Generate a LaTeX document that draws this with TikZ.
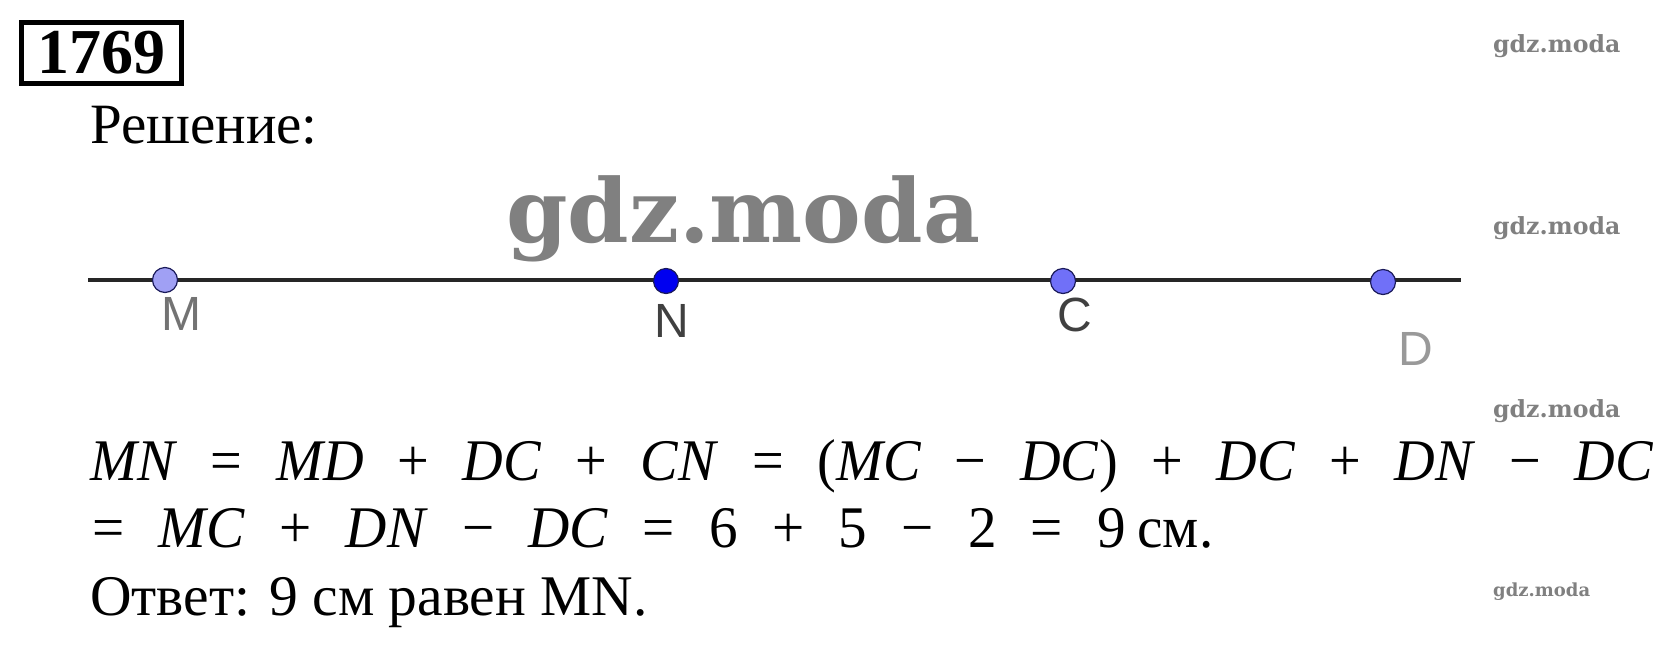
\documentclass[tikz,border=0pt]{standalone}
\usepackage{fontspec}
\usepackage{graphicx}
\setmainfont{Liberation Serif}
\newfontfamily\labelfont{Liberation Sans}
\newfontfamily\markfont{DejaVu Serif Bold}
\definecolor{ptlight}{HTML}{A0A0F4}
\definecolor{ptblue}{HTML}{0000F0}
\definecolor{ptmid}{HTML}{7070F8}
\definecolor{ptedge}{HTML}{1A1A5A}
\newcommand{\opgap}{\hspace{0.6em}}

\begin{document}
\begin{tikzpicture}[x=1pt,y=-1pt,
  dot/.style={circle,draw=ptedge,line width=1.2pt,minimum size=25pt,inner sep=0pt},
  ptlabel/.style={font=\labelfont\fontsize{48}{48}\selectfont,inner sep=0pt},
  wmark/.style={text=black!50,inner sep=0pt,anchor=base west},
  textline/.style={anchor=base west,inner sep=0pt}]
  \useasboundingbox (0,0) rectangle (1672,667);

  % number box and heading
  \node[draw,line width=5pt,minimum width=160pt,minimum height=61pt,inner sep=0pt,
    font=\bfseries\fontsize{64}{64}\selectfont] (num) at (101.5,53) {1769};
  \node[textline,font=\fontsize{57}{57}\selectfont] (head) at (90,143) {Решение:};

  % watermarks
  \node[wmark,font=\markfont\fontsize{88}{88}\selectfont] (wmBig) at (506,242) {gdz.moda};
  \foreach \y/\n in {52/1,234/2,417/3}
    \node[wmark,font=\markfont\fontsize{23.6}{24}\selectfont] (wm\n) at (1493,\y) {gdz.moda};
  \node[wmark,font=\markfont\fontsize{18}{18}\selectfont] (wm4) at (1493,596) {gdz.moda};

  % the line with its points
  \coordinate (lineL) at (88,280);
  \coordinate (lineR) at (1461,280);
  \draw[line width=4pt,black!85] (lineL) -- (lineR);

  \node[dot,fill=ptlight] (M) at (165,280) {};
  \node[dot,fill=ptblue]  (N) at (666,281) {};
  \node[dot,fill=ptmid]   (C) at (1063,281) {};
  \node[dot,fill=ptmid]   (D) at (1383,282) {};

  \node[ptlabel,text=black!55] (labM) at (181,314) {M};
  \node[ptlabel,text=black!75] (labN) at (672,321) {N};
  \node[ptlabel,text=black!75] (labC) at (1075,315) {C};
  \node[ptlabel,text=black!40] (labD) at (1416,349) {D};

  % solution lines
  \node[textline] (eqA) at (90,480) {\resizebox{1563pt}{\height}{\fontsize{59}{59}\selectfont
    \textit{MN}\opgap=\opgap\textit{MD}\opgap+\opgap\textit{DC}\opgap+\opgap\textit{CN}\opgap=\opgap
    (\textit{MC}\opgap−\opgap\textit{DC})\opgap+\opgap\textit{DC}\opgap+\opgap\textit{DN}\opgap−\opgap\textit{DC}}};
  \node[textline] (eqB) at (92,547) {\resizebox{1121pt}{\height}{\fontsize{59}{59}\selectfont
    =\opgap\textit{MC}\opgap+\opgap\textit{DN}\opgap−\opgap\textit{DC}\opgap=\opgap
    6\opgap+\opgap5\opgap−\opgap2\opgap=\opgap9\kern0.2em см.}};
  \node[textline,font=\fontsize{57.5}{58}\selectfont] (answer) at (90,615) {Ответ: 9 см равен MN.};
\end{tikzpicture}
\end{document}
